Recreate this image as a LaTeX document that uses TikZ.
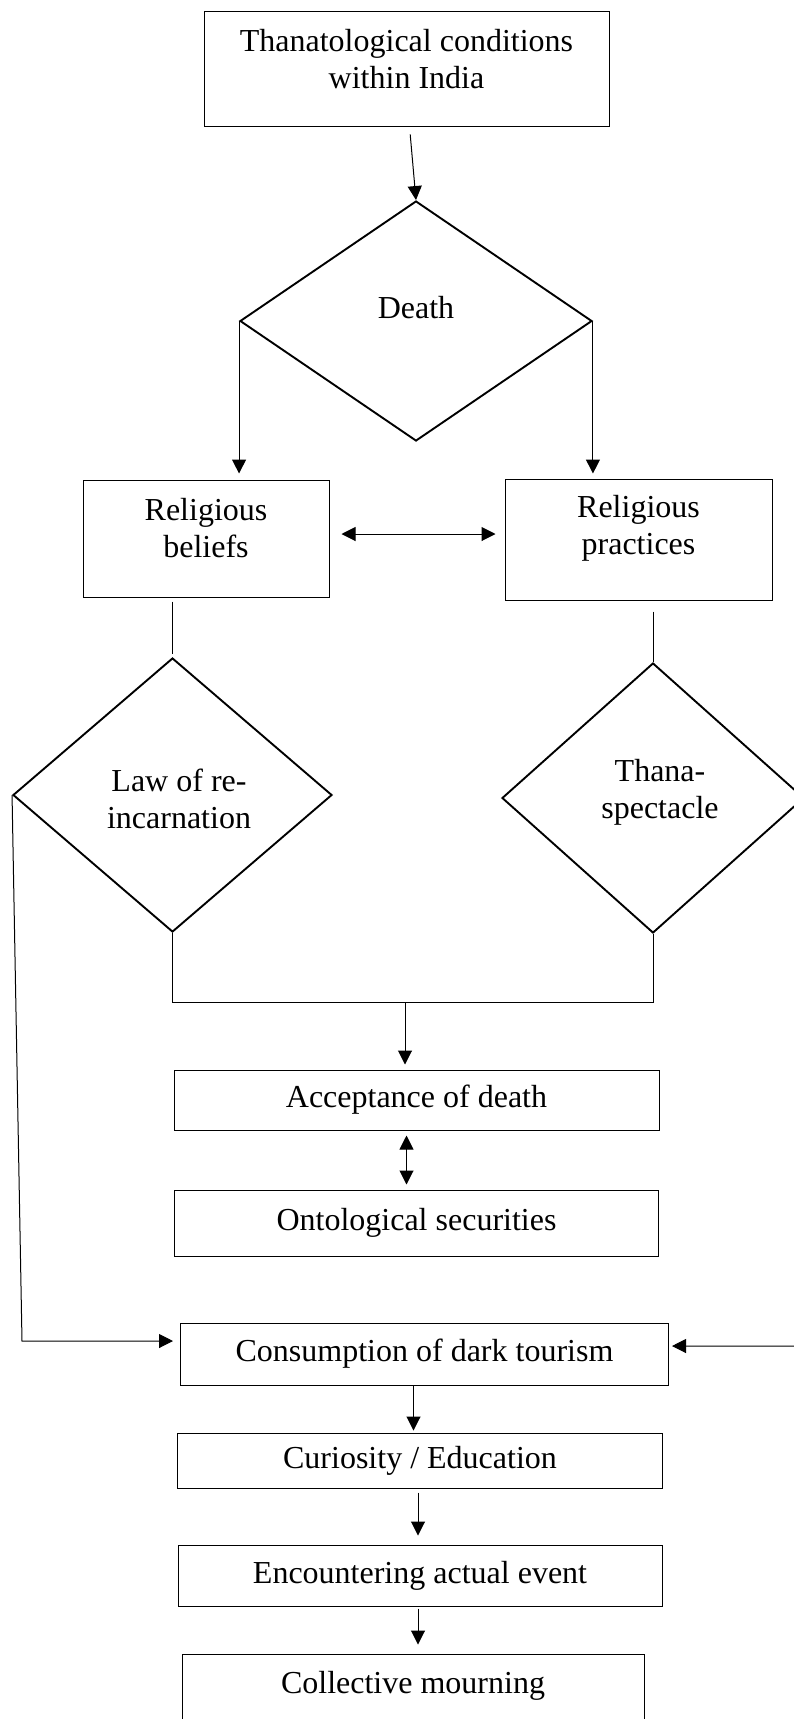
\documentclass[tikz,border=0pt]{standalone}
\usepackage{fontspec}
\setmainfont{Liberation Serif}
\usetikzlibrary{shapes.geometric, arrows.meta, positioning, calc}
\tikzstyle{box} = [draw, line width=1pt, inner sep=0pt]
\tikzstyle{decision} = [diamond, draw, line width=1.9pt, inner sep=0pt]
\tikzstyle{link} = [line width=1pt]
\tikzstyle{arrow} = [line width=1pt,-{Triangle[length=14pt,width=14pt]}]
\tikzstyle{twoway} = [line width=1pt,{Triangle[length=14pt,width=14pt]}-{Triangle[length=14pt,width=14pt]}]

\begin{document}
\begin{tikzpicture}[x=1pt,y=-1pt,font=\fontsize{32}{37}\selectfont,node distance=120pt,on grid]
\useasboundingbox (0,0) rectangle (793,1719);
	\node[box,minimum width=405pt,minimum height=115pt,label={[align=center,yshift=9.5pt]center:Thanatological conditions\\within India}](cond) at (406.5,68.5){};
	\node[decision,minimum width=352pt,minimum height=240pt,label={[yshift=13pt]center:Death}](death) at (416,321){};
	\node[box,minimum width=246pt,minimum height=117pt,label={[align=center,yshift=10.5pt]center:Religious\\beliefs}](beliefs) at (206,538.5){};
	\node[box,minimum width=267pt,minimum height=121pt,label={[align=center,yshift=11.5pt]center:Religious\\practices}](practices) at (638.5,539.5){};
	\node[decision,minimum width=319pt,minimum height=274pt,label={[align=center,xshift=6.5pt,yshift=-4pt]center:Law of re-\\incarnation}](law) at (172.5,795){};
	\node[decision,minimum width=302pt,minimum height=270pt,label={[align=center,xshift=7pt,yshift=6pt]center:Thana-\\spectacle}](thana) at (653,798){};
	\node[box,minimum width=485pt,minimum height=60pt](accept) at (416.5,1100){Acceptance of death};
	\node[box,minimum width=484pt,minimum height=66pt][below=123pt of accept](onto){Ontological securities};
	\node[box,minimum width=488pt,minimum height=62pt][below=131pt of onto,xshift=8pt](consume){Consumption of dark tourism};
	\node[box,minimum width=485pt,minimum height=55pt][below=106.5pt of consume,xshift=-4.5pt](curio){Curiosity / Education};
	\node[box,minimum width=484pt,minimum height=61pt][below=115pt of curio](encounter){Encountering actual event};
	\node[box,minimum width=462pt,minimum height=70pt,label={[yshift=3pt]center:Collective mourning}][below=113.5pt of encounter,xshift=-7pt](mourning){};
	\coordinate (merge) at (405,1002);
	\coordinate (lbend) at (22,1341);
	\coordinate (rbend) at (812,1346);
	\draw[arrow,shorten <=8pt] ([xshift=3pt]cond.south) -- (death.north);
	\draw[arrow,shorten >=6pt] (death.west) -- (death.west |- beliefs.north);
	\draw[arrow,shorten >=5pt] (death.east) -- (death.east |- practices.north);
	\draw[twoway,shorten <=12pt,shorten >=9pt] ([yshift=4.5pt]beliefs.east) -- ([yshift=4.5pt]beliefs.east -| practices.west);
	\draw[link,shorten <=4pt,shorten >=3pt] (law.north |- beliefs.south) -- (law.north);
	\draw[link,shorten <=11pt] (thana.north |- practices.south) -- (thana.north);
	\draw[link] (law.south) |- (merge) -| (thana.south);
	\draw[arrow,shorten >=5pt] (merge) -- (merge |- accept.north);
	\draw[twoway,shorten <=5pt,shorten >=5pt] ([xshift=-10pt]accept.south) -- ([xshift=-10pt]onto.north);
	\draw[arrow,shorten >=7pt] (law.west) -- (lbend) -- (lbend -| consume.west);
	\draw[arrow,shorten >=3pt] (thana.east) -- (rbend) -- (rbend -| consume.east);
	\draw[arrow,shorten >=2pt] ([xshift=-11pt]consume.south) -- ([xshift=-11pt]consume.south |- curio.north);
	\draw[arrow,shorten <=4pt,shorten >=9pt] ([xshift=-2pt]curio.south) -- ([xshift=-2pt]curio.south |- encounter.north);
	\draw[arrow,shorten <=2pt,shorten >=9pt] ([xshift=-2pt]encounter.south) -- ([xshift=-2pt]encounter.south |- mourning.north);
\end{tikzpicture}
\end{document}
